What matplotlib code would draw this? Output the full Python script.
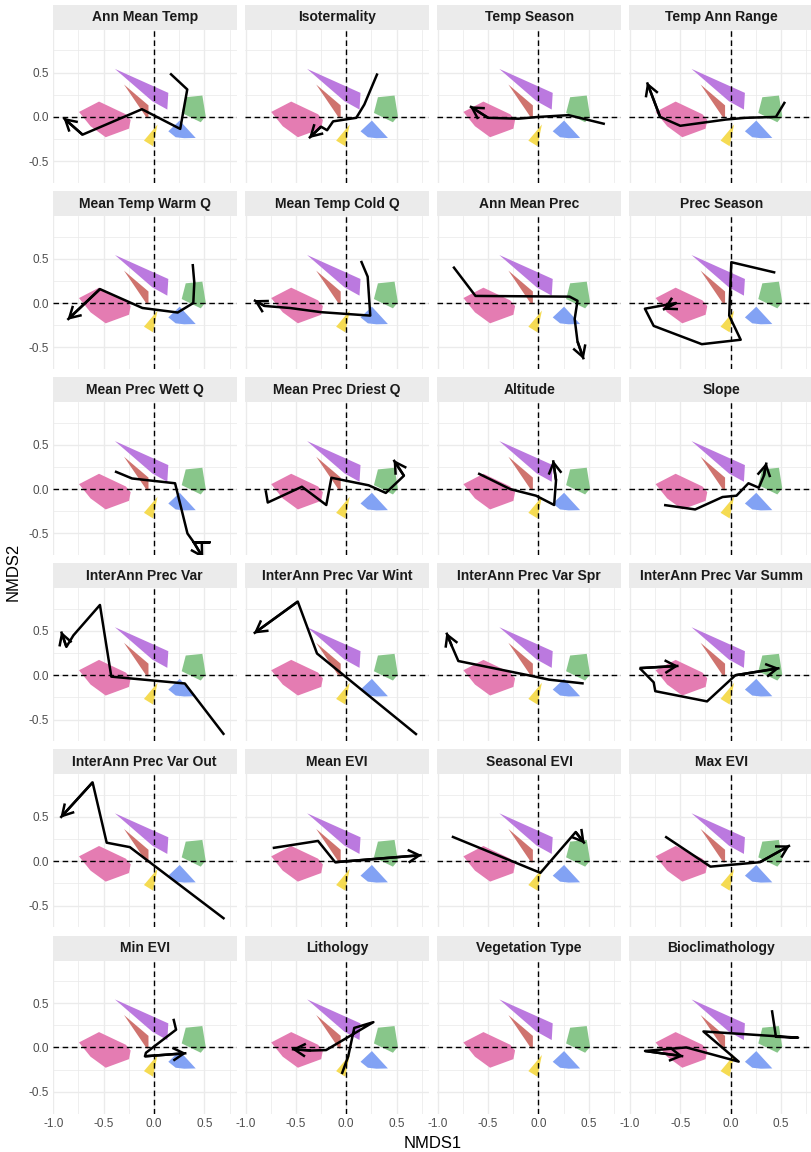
import matplotlib
matplotlib.use("Agg")
import matplotlib.pyplot as plt
from matplotlib.patches import Polygon, Rectangle, FancyArrowPatch

plt.rcParams['font.family'] = ['Liberation Sans', 'DejaVu Sans']

# ---------------- data ----------------
titles = ["Ann Mean Temp", "Isotermality", "Temp Season", "Temp Ann Range",
          "Mean Temp Warm Q", "Mean Temp Cold Q", "Ann Mean Prec", "Prec Season",
          "Mean Prec Wett Q", "Mean Prec Driest Q", "Altitude", "Slope",
          "InterAnn Prec Var", "InterAnn Prec Var Wint", "InterAnn Prec Var Spr", "InterAnn Prec Var Summ",
          "InterAnn Prec Var Out", "Mean EVI", "Seasonal EVI", "Max EVI",
          "Min EVI", "Lithology", "Vegetation Type", "Bioclimathology"]

# group hulls (NMDS1, NMDS2)
hull_pink = [(-0.745, 0.056), (-0.546, 0.173), (-0.28, 0.03), (-0.232, -0.034),
             (-0.248, -0.132), (-0.48, -0.229), (-0.63, -0.105)]
hull_red = [(-0.298, 0.365), (-0.055, 0.13), (-0.055, -0.012), (-0.072, -0.012)]
hull_purple = [(-0.388, 0.541), (0.142, 0.271), (0.132, 0.083), (-0.017, 0.177)]
hull_green = [(0.315, 0.222), (0.48, 0.241), (0.513, 0.008), (0.464, -0.06), (0.275, 0.045)]
hull_blue = [(0.255, -0.041), (0.414, -0.237), (0.30, -0.24), (0.215, -0.229), (0.142, -0.162)]
hull_yellow = [(0.035, -0.085), (-0.01, -0.33), (-0.10, -0.267)]
hull_colors = ["#E47CB2", "#CF736E", "#BB79DF", "#88C68A", "#82A2F4", "#F5DB52"]

# fitted response paths: each panel is a list of paths, the last point of each path carries an arrow head
p_ann_mean_temp = [[(0.16, 0.49), (0.33, 0.31), (0.26, -0.135), (-0.12, 0.087), (-0.71, -0.2), (-0.9, -0.01)]]
p_isotermality = [[(0.31, 0.49), (0.18, 0.14), (0.10, -0.01), (-0.13, -0.05), (-0.19, -0.15), (-0.25, -0.11), (-0.37, -0.24)]]
p_temp_season = [[(0.66, -0.08), (0.3, 0.02), (0.0, 0.0), (-0.2, -0.02), (-0.5, -0.01), (-0.68, 0.12)]]
p_temp_ann_range = [[(0.54, 0.17), (0.45, 0.0), (0.15, -0.01), (-0.05, -0.03), (-0.5, -0.1), (-0.7, 0.0), (-0.83, 0.39)]]
p_mean_temp_warm = [[(0.384, 0.44), (0.40, 0.23), (0.39, 0.0), (0.235, -0.107), (-0.115, -0.056),
                     (-0.537, 0.157), (-0.86, -0.19)]]
p_mean_temp_cold = [[(0.147, 0.475), (0.213, 0.297), (0.239, -0.142), (-0.25, -0.103), (-0.56, -0.056),
                     (-0.81, -0.033), (-0.917, 0.033)]]
p_ann_mean_prec = [[(-0.846, 0.41), (-0.625, 0.08), (0.31, 0.072), (0.388, 0.025), (0.36, -0.18),
                    (0.388, -0.433), (0.45, -0.635)]]
p_prec_season = [[(0.444, 0.343), (0.007, 0.46), (-0.014, -0.142), (0.1, -0.414), (-0.286, -0.464),
                  (-0.764, -0.258), (-0.851, -0.064), (-0.543, 0.0), (-0.672, -0.076)]]
p_mean_prec_wett = [[(-0.388, 0.2), (-0.218, 0.12), (0.209, 0.066), (0.332, -0.5), (0.395, -0.6),
                     (0.553, -0.6), (0.395, -0.6), (0.49, -0.78)]]
p_mean_prec_driest = [[(-0.8, -0.012), (-0.779, -0.151), (-0.44, 0.027), (-0.198, -0.179), (-0.147, 0.128),
                       (0.223, 0.043), (0.393, -0.043), (0.573, 0.151), (0.47, 0.33)]]
p_altitude = [[(-0.599, 0.178), (-0.28, 0.0), (-0.024, -0.074), (0.156, -0.179), (0.175, 0.10), (0.146, 0.326)]]
p_slope = [[(-0.661, -0.179), (-0.352, -0.229), (-0.08, -0.089), (0.058, -0.074), (0.177, 0.066),
            (0.28, 0.016), (0.33, 0.151), (0.356, 0.30)]]
p_iav = [[(0.697, -0.672), (0.306, -0.093), (-0.424, -0.016), (-0.537, 0.792), (-0.80, 0.45),
          (-0.87, 0.32), (-0.922, 0.493)]]
p_iav_wint = [[(0.702, -0.672), (-0.29, 0.245), (-0.481, 0.83), (-0.918, 0.47)]]
p_iav_spr = [[(0.45, -0.093), (0.105, -0.05), (-0.05, -0.012), (-0.795, 0.16), (-0.86, 0.33), (-0.914, 0.48)]]
p_iav_summ = [[(-0.903, 0.08), (-0.517, 0.105)],
              [(-0.903, 0.08), (-0.764, -0.08), (-0.748, -0.18), (-0.234, -0.295), (0.048, 0.0), (0.486, 0.08)]]
p_iav_out = [[(0.7, -0.65), (-0.24, 0.16), (-0.47, 0.21), (-0.61, 0.89), (-0.93, 0.49)]]
p_mean_evi = [[(-0.73, 0.15), (-0.28, 0.23), (-0.11, -0.01), (0.75, 0.07)]]
p_seasonal_evi = [[(-0.86, 0.28), (0.02, -0.13), (0.37, 0.33), (0.46, 0.2)]]
p_max_evi = [[(-0.65, 0.28), (-0.2, -0.06), (0.29, -0.01), (0.59, 0.18)]]
p_min_evi = [[(0.193, 0.323), (0.219, 0.2), (-0.08, -0.06), (-0.09, -0.10), (0.322, -0.065)]]
p_lithology = [[(-0.044, -0.3), (0.02, -0.1), (0.08, 0.22), (0.27, 0.285), (-0.2, -0.03),
                (-0.35, -0.035), (-0.54, -0.02)]]
p_vegetation = []
p_bioclim = [[(0.41, 0.42), (0.45, 0.12), (0.67, 0.11), (-0.27, 0.18), (0.08, -0.16), (-0.44, 0.0),
              (-0.85, -0.04), (-0.47, -0.1)]]

paths = [p_ann_mean_temp, p_isotermality, p_temp_season, p_temp_ann_range,
         p_mean_temp_warm, p_mean_temp_cold, p_ann_mean_prec, p_prec_season,
         p_mean_prec_wett, p_mean_prec_driest, p_altitude, p_slope,
         p_iav, p_iav_wint, p_iav_spr, p_iav_summ,
         p_iav_out, p_mean_evi, p_seasonal_evi, p_max_evi,
         p_min_evi, p_lithology, p_vegetation, p_bioclim]

x_ticks = [-1.0, -0.5, 0.0, 0.5]
x_tick_labels = ["-1.0", "-0.5", "0.0", "0.5"]
y_ticks = [-0.5, 0.0, 0.5]
y_tick_labels = ["-0.5", "0.0", "0.5"]

# ---------------- layout ----------------
W, H = 812, 1152
fig = plt.figure(figsize=(W / 100, H / 100), dpi=100)
fig.patch.set_facecolor("white")

left0, colpitch, pw = 52.7, 192.2, 184.0
top0, rowpitch, ph = 30.0, 186.1, 153.0
strip_h = 25.0

XLIM = (-1.006, 0.821)
YLIM = (-0.745, 0.98)
grid_col = "#EBEBEB"
tick_col = "#4D4D4D"
LW = 1.8

hulls = [hull_pink, hull_red, hull_purple, hull_green, hull_blue, hull_yellow]

for i, title in enumerate(titles):
    r, c = divmod(i, 4)
    l = left0 + c * colpitch
    t = top0 + r * rowpitch
    ax = fig.add_axes([l / W, 1 - (t + ph) / H, pw / W, ph / H])
    ax.set_xlim(*XLIM)
    ax.set_ylim(*YLIM)
    for s in ax.spines.values():
        s.set_visible(False)
    # grid
    for gx in [-1.0, -0.5, 0.0, 0.5]:
        ax.axvline(gx, color=grid_col, lw=1.0, zorder=0)
    for gx in [-0.75, -0.25, 0.25, 0.75]:
        ax.axvline(gx, color=grid_col, lw=0.55, zorder=0)
    for gy in [-0.5, 0.0, 0.5]:
        ax.axhline(gy, color=grid_col, lw=1.0, zorder=0)
    for gy in [-0.25, 0.25, 0.75]:
        ax.axhline(gy, color=grid_col, lw=0.55, zorder=0)
    # hulls
    for hull, col in zip(hulls, hull_colors):
        ax.add_patch(Polygon(hull, closed=True, facecolor=col, edgecolor="none", zorder=2))
    # reference lines
    ax.axhline(0, color="black", lw=1.0, ls=(0, (4, 2.6)), zorder=3)
    ax.axvline(0, color="black", lw=1.0, ls=(0, (4, 2.6)), zorder=3)
    # paths + arrows
    for pth in paths[i]:
        xs = [p[0] for p in pth]
        ys = [p[1] for p in pth]
        ax.plot(xs, ys, color="black", lw=LW, solid_joinstyle="round",
                solid_capstyle="butt", zorder=4)
        arr = FancyArrowPatch(posA=pth[-2], posB=pth[-1],
                              arrowstyle="->,head_length=0.8,head_width=0.46",
                              mutation_scale=10, lw=LW, color="black",
                              shrinkA=0, shrinkB=0, joinstyle="round",
                              capstyle="butt", zorder=5)
        ax.add_patch(arr)
    # ticks
    ax.tick_params(length=0, pad=3, labelsize=8.5, labelcolor=tick_col)
    ax.set_xticks(x_ticks)
    ax.set_yticks(y_ticks)
    if r == 5:
        ax.set_xticklabels(x_tick_labels)
    else:
        ax.set_xticklabels([])
    if c == 0:
        ax.set_yticklabels(y_tick_labels)
    else:
        ax.set_yticklabels([])
    # strip
    ax.add_patch(Rectangle((0, 1), 1, strip_h / ph, transform=ax.transAxes,
                           facecolor="#EBEBEB", edgecolor="none", clip_on=False))
    ax.text(0.5, 1 + strip_h / ph / 2, title, transform=ax.transAxes,
            ha="center", va="center", fontsize=10, fontweight="bold", color="#1A1A1A")

x_center = (left0 + (left0 + 3 * colpitch + pw)) / 2
fig.text(x_center / W, 1 - 1143 / H, "NMDS1", ha="center", va="center",
         fontsize=12, color="black")
fig.text(13 / W, 1 - 572 / H, "NMDS2", ha="center", va="center",
         rotation=90, fontsize=12, color="black")

fig.savefig("out.png", dpi=100, facecolor="white")
